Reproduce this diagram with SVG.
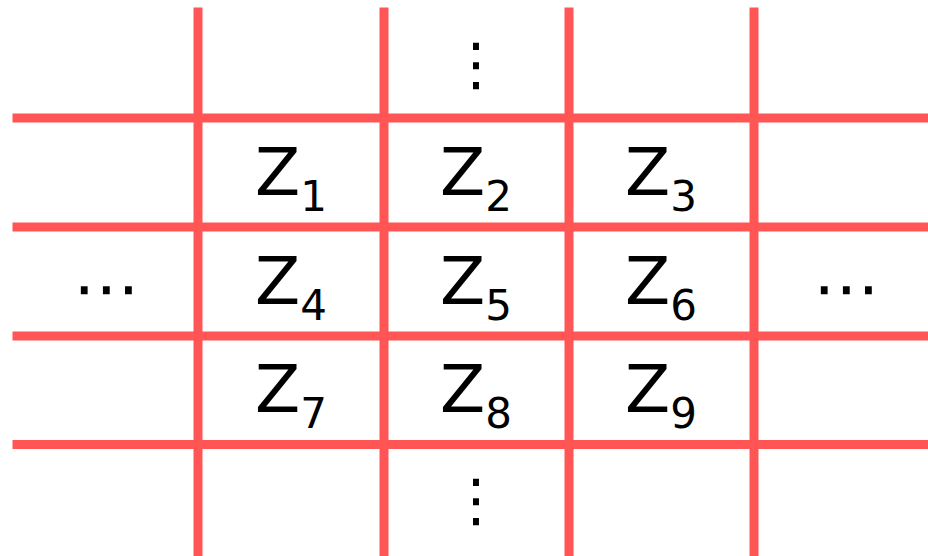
<svg xmlns="http://www.w3.org/2000/svg" width="928" height="556" viewBox="0 0 928 556">
<style>
.grid line { stroke: #ff5555; stroke-width: 9; }
.lbl { font-family: "DejaVu Sans", sans-serif; font-size: 66px; fill: #000; }
.sub { font-size: 42px; }
.dots { font-family: "DejaVu Sans", sans-serif; font-size: 66px; fill: #000; text-anchor: middle; }
.vdots { font-size: 58px; }
</style>
<rect width="928" height="556" fill="#fff"/>
<g id="grid" class="grid">
<line x1="198" y1="7.5" x2="198" y2="556"/>
<line x1="384" y1="7.5" x2="384" y2="556"/>
<line x1="569" y1="7.5" x2="569" y2="556"/>
<line x1="754" y1="7.5" x2="754" y2="556"/>
<line x1="12.5" y1="118" x2="928" y2="118"/>
<line x1="12.5" y1="227" x2="928" y2="227"/>
<line x1="12.5" y1="336" x2="928" y2="336"/>
<line x1="12.5" y1="444.5" x2="928" y2="444.5"/>
</g>
<g id="z1"><text class="lbl" x="255" y="195">Z<tspan class="sub" dy="16">1</tspan></text></g>
<g id="z2"><text class="lbl" x="440" y="195">Z<tspan class="sub" dy="16">2</tspan></text></g>
<g id="z3"><text class="lbl" x="625" y="195">Z<tspan class="sub" dy="16">3</tspan></text></g>
<g id="z4"><text class="lbl" x="255" y="304">Z<tspan class="sub" dy="16">4</tspan></text></g>
<g id="z5"><text class="lbl" x="440" y="304">Z<tspan class="sub" dy="16">5</tspan></text></g>
<g id="z6"><text class="lbl" x="625" y="304">Z<tspan class="sub" dy="16">6</tspan></text></g>
<g id="z7"><text class="lbl" x="255" y="412">Z<tspan class="sub" dy="16">7</tspan></text></g>
<g id="z8"><text class="lbl" x="440" y="412">Z<tspan class="sub" dy="16">8</tspan></text></g>
<g id="z9"><text class="lbl" x="625" y="412">Z<tspan class="sub" dy="16">9</tspan></text></g>
<g id="dots-left"><text class="dots" x="106" y="311">⋯</text></g>
<g id="dots-right"><text class="dots" x="846" y="311">⋯</text></g>
<g id="dots-top"><text class="dots vdots" x="476" y="84">⋮</text></g>
<g id="dots-bottom"><text class="dots vdots" x="476" y="520">⋮</text></g>
</svg>
